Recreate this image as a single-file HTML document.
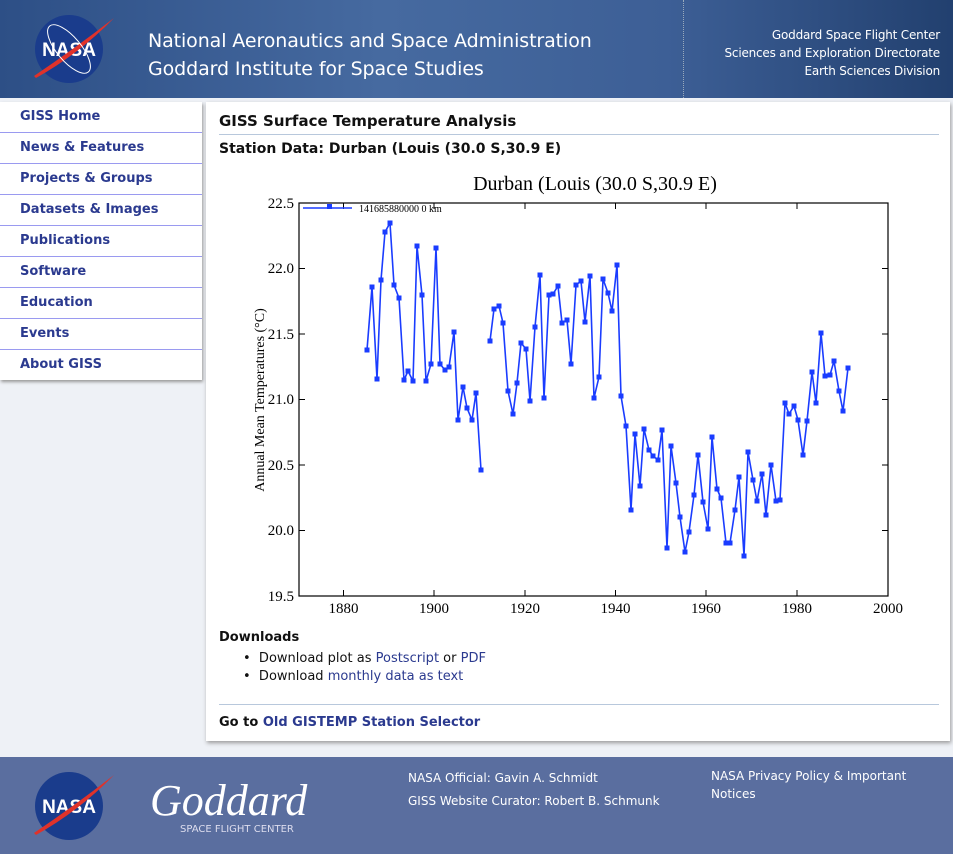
<!DOCTYPE html>
<html><head><meta charset="utf-8"><style>
body{margin:0;width:953px;height:854px;background:#eef1f6;font-family:"DejaVu Sans","Liberation Sans",sans-serif;position:relative;overflow:hidden}
.hdr{position:absolute;left:0;top:0;width:953px;height:98px;background:linear-gradient(90deg,#2d4f86 0%,#466aa0 40%,#3d5f96 70%,#22406f 100%)}
.abs{position:absolute}
.nav{position:absolute;left:0;top:102px;width:202px;background:#fff;box-shadow:1px 2px 3px #999}
.nav div{height:30px;border-bottom:1px solid #9a9af0;font-size:13px;font-weight:bold;color:#2b3a8f;line-height:29px;padding-left:20px}
.nav div:last-child{border-bottom:none}
.panel{position:absolute;left:206px;top:102px;width:744px;height:639px;background:#fff;box-shadow:1px 2px 4px #999}
.foot{position:absolute;left:0;top:757px;width:953px;height:97px;background:#5a6e9f;color:#fff;font-size:12px}
a{color:#2b3a8f;text-decoration:none}
</style></head><body>
<div class="hdr">
 <svg class="abs" style="left:34px;top:14px" width="80" height="70"><circle cx="35" cy="35" r="34" fill="#1a3c8c"/><text x="35" y="42" font-family="Liberation Sans" font-weight="bold" font-size="19" fill="#fff" text-anchor="middle">NASA</text><path d="M0 62 Q40 35 80 4 Q45 40 2 64Z" fill="#e0322a"/><ellipse cx="35" cy="35" rx="30" ry="12" transform="rotate(50 35 35)" fill="none" stroke="#fff" stroke-width="1"/></svg>
 <div class="abs" style="left:148px;top:27px;color:#fff;font-size:19px;line-height:28px;letter-spacing:-0.1px">National Aeronautics and Space Administration<br>Goddard Institute for Space Studies</div>
 <div class="abs" style="left:683px;top:0;width:1px;height:98px;border-left:1px dotted #9ab"></div>
 <div class="abs" style="right:13px;top:26px;color:#fff;font-size:12px;line-height:18px;text-align:right;letter-spacing:-0.2px">Goddard Space Flight Center<br>Sciences and Exploration Directorate<br>Earth Sciences Division</div>
</div>
<div class="nav"><div>GISS Home</div><div>News &amp; Features</div><div>Projects &amp; Groups</div><div>Datasets &amp; Images</div><div>Publications</div><div>Software</div><div>Education</div><div>Events</div><div>About GISS</div></div>
<div class="panel">
 <div class="abs" style="left:13px;top:10px;font-size:15px;font-weight:bold;color:#111">GISS Surface Temperature Analysis</div>
 <div class="abs" style="left:13px;top:32px;width:720px;border-top:1px solid #b8c8dc"></div>
 <div class="abs" style="left:13px;top:39px;font-size:14px;font-weight:bold;color:#111">Station Data: Durban (Louis (30.0 S,30.9 E)</div>
 <div class="abs" style="left:13px;top:528px;font-size:13px;font-weight:bold;color:#111">Downloads</div>
 <div class="abs" style="left:37px;top:548px;font-size:13px;color:#111;line-height:18px">•&nbsp; Download plot as <a>Postscript</a> or <a>PDF</a><br>•&nbsp; Download <a>monthly data as text</a></div>
 <div class="abs" style="left:13px;top:602px;width:720px;border-top:1px solid #b8c8dc"></div>
 <div class="abs" style="left:13px;top:613px;font-size:13px;font-weight:bold;color:#111">Go to <a>Old GISTEMP Station Selector</a></div>
</div>
<svg class="abs" style="left:0;top:0" width="953" height="640" font-family="Liberation Serif">
<text x="595" y="190" font-size="20" text-anchor="middle">Durban (Louis (30.0 S,30.9 E)</text>
<rect x="299" y="203" width="589" height="393" fill="none" stroke="#000" stroke-width="1.2"/>
<g stroke="#000" stroke-width="1">
<line x1="343.5" y1="596" x2="343.5" y2="590"/><line x1="434" y1="596" x2="434" y2="590"/><line x1="525" y1="596" x2="525" y2="590"/><line x1="615.5" y1="596" x2="615.5" y2="590"/><line x1="706" y1="596" x2="706" y2="590"/><line x1="797" y1="596" x2="797" y2="590"/>
<line x1="343.5" y1="203" x2="343.5" y2="209"/><line x1="434" y1="203" x2="434" y2="209"/><line x1="525" y1="203" x2="525" y2="209"/><line x1="615.5" y1="203" x2="615.5" y2="209"/><line x1="706" y1="203" x2="706" y2="209"/><line x1="797" y1="203" x2="797" y2="209"/>
<line x1="299" y1="268.5" x2="305" y2="268.5"/><line x1="299" y1="334" x2="305" y2="334"/><line x1="299" y1="399.5" x2="305" y2="399.5"/><line x1="299" y1="465" x2="305" y2="465"/><line x1="299" y1="530.5" x2="305" y2="530.5"/>
<line x1="888" y1="268.5" x2="882" y2="268.5"/><line x1="888" y1="334" x2="882" y2="334"/><line x1="888" y1="399.5" x2="882" y2="399.5"/><line x1="888" y1="465" x2="882" y2="465"/><line x1="888" y1="530.5" x2="882" y2="530.5"/>
</g>
<g font-size="15" text-anchor="middle"><text x="343.5" y="613">1880</text><text x="434" y="613">1900</text><text x="525" y="613">1920</text><text x="615.5" y="613">1940</text><text x="706" y="613">1960</text><text x="797" y="613">1980</text><text x="888" y="613">2000</text></g>
<g font-size="15" text-anchor="end"><text x="294" y="208">22.5</text><text x="294" y="273">22.0</text><text x="294" y="339">21.5</text><text x="294" y="404">21.0</text><text x="294" y="470">20.5</text><text x="294" y="535">20.0</text><text x="294" y="601">19.5</text></g>
<text transform="translate(264 400) rotate(-90)" font-size="14" text-anchor="middle">Annual Mean Temperatures (°C)</text>
<line x1="303" y1="208" x2="352" y2="208" stroke="#1a3cff" stroke-width="1.5"/><rect x="327" y="204" width="5" height="5" fill="#1a3cff"/>
<text x="359" y="212" font-size="10">141685880000  0 km</text>
<g fill="none" stroke="#1a3cff" stroke-width="1.6">
<polyline points="367,350 372,287 377,379 381,280 385,232 390,223 394,285 399,298 404,380 408,371 413,381 417,246 422,295 426,381 431,364 436,248 440,364 445,370 449,367 454,332 458,420 463,387 467,408 472,420 476,393 481,470"/>
<polyline points="490,341 494,309 499,306 503,323 508,391 513,414 517,383 521,343 526,349 530,401 535,327 540,275 544,398 549,295 553,294 558,286 562,323 567,320 571,364 576,285 581,281 585,322 590,276 594,398 599,377 603,279 608,293 612,311 617,265 621,396 626,426 631,510 635,434 640,486 644,429 649,450 653,456 658,460 662,430 667,548 671,446 676,483 680,517 685,552 689,532 694,495 698,455 703,502 708,529 712,437 717,489 721,498 726,543 730,543 735,510 739,477 744,556 748,452 753,480 757,501 762,474 766,515 771,465 776,501 780,500 785,403 789,414 794,406 798,420 803,455 807,421 812,372 816,403 821,333 825,376 830,375 834,361 839,391 843,411 848,368"/>
</g>
<g id="m" fill="#1a3cff"></g>
</svg>
<div class="foot">
 <svg class="abs" style="left:34px;top:14px" width="80" height="70"><circle cx="35" cy="35" r="34" fill="#1a3c8c"/><text x="35" y="42" font-family="Liberation Sans" font-weight="bold" font-size="19" fill="#fff" text-anchor="middle">NASA</text><path d="M0 62 Q40 35 80 4 Q45 40 2 64Z" fill="#e0322a"/></svg>
 <div class="abs" style="left:150px;top:18px;font-family:'Liberation Serif',serif;font-style:italic;font-size:44px;color:#fff">Goddard</div>
 <div class="abs" style="left:180px;top:67px;font-size:10px;color:#dde">SPACE FLIGHT CENTER</div>
 <div class="abs" style="left:408px;top:10px;line-height:23px">NASA Official: Gavin A. Schmidt<br>GISS Website Curator: Robert B. Schmunk</div>
 <div class="abs" style="left:711px;top:10px;line-height:18px;width:220px">NASA Privacy Policy &amp; Important Notices</div>
</div>
<script>
var pts="367,350 372,287 377,379 381,280 385,232 390,223 394,285 399,298 404,380 408,371 413,381 417,246 422,295 426,381 431,364 436,248 440,364 445,370 449,367 454,332 458,420 463,387 467,408 472,420 476,393 481,470 490,341 494,309 499,306 503,323 508,391 513,414 517,383 521,343 526,349 530,401 535,327 540,275 544,398 549,295 553,294 558,286 562,323 567,320 571,364 576,285 581,281 585,322 590,276 594,398 599,377 603,279 608,293 612,311 617,265 621,396 626,426 631,510 635,434 640,486 644,429 649,450 653,456 658,460 662,430 667,548 671,446 676,483 680,517 685,552 689,532 694,495 698,455 703,502 708,529 712,437 717,489 721,498 726,543 730,543 735,510 739,477 744,556 748,452 753,480 757,501 762,474 766,515 771,465 776,501 780,500 785,403 789,414 794,406 798,420 803,455 807,421 812,372 816,403 821,333 825,376 830,375 834,361 839,391 843,411 848,368".split(" ");
var g=document.getElementById("m"),s="";
pts.forEach(function(p){var a=p.split(",");s+='<rect x="'+(a[0]-2.5)+'" y="'+(a[1]-2.5)+'" width="5" height="5"/>';});
g.innerHTML=s;
</script>
</body></html>
